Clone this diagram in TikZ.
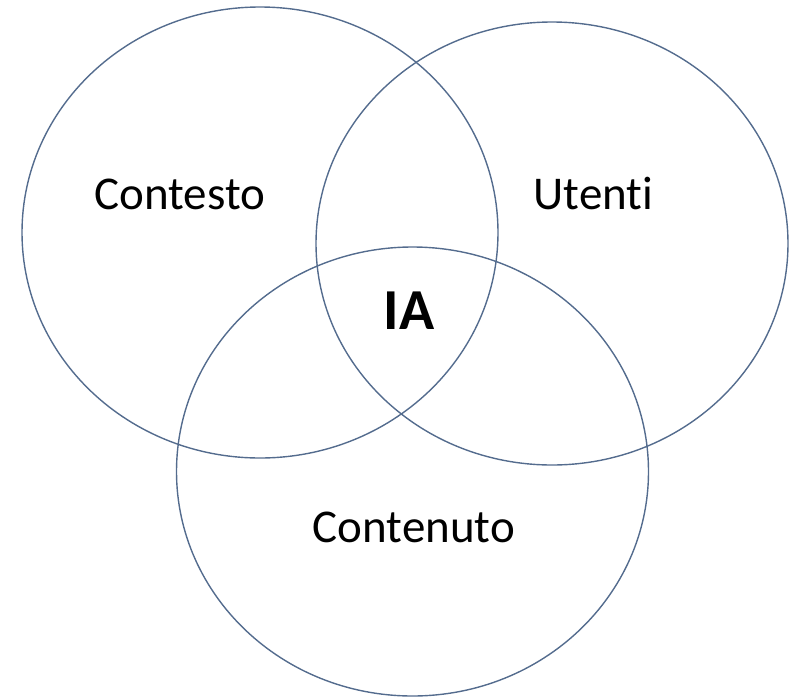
\documentclass[tikz,border=0pt]{standalone}
\usepackage{fontspec}
\setmainfont{Carlito}[Ligatures=NoCommon]
\usepackage{tikz}
\usetikzlibrary{positioning}

\definecolor{ringblue}{RGB}{84,108,142}

\tikzset{
  ring/.style={draw=ringblue, line width=1.4pt},
  setlabel/.style={anchor=base, inner sep=0pt, font=\fontsize{47}{52}\selectfont},
  corelabel/.style={anchor=base, inner sep=0pt, font=\fontsize{58}{64}\selectfont\bfseries}
}

\begin{document}
\begin{tikzpicture}[x=1pt, y=-1pt]
    \useasboundingbox (0,0) rectangle (796,697);

    % Draw the three sets
    \foreach \cx/\cy/\rx/\ry in {260/232.5/238/225.5, 552/243.5/236/221.5, 412.5/471.5/236/224.5} {
      \draw[ring] (\cx,\cy) ellipse ({\rx} and {\ry});
    }

    % Labels
    \node[setlabel] (contesto) at (180,209) {Contesto};
    \node[setlabel] (utenti) at (593.5,209) {Utenti};
    \node[setlabel] (contenuto) at (414,542) {Contenuto};
    \node[corelabel] (ia) at (409,329) {IA};

\end{tikzpicture}
\end{document}
